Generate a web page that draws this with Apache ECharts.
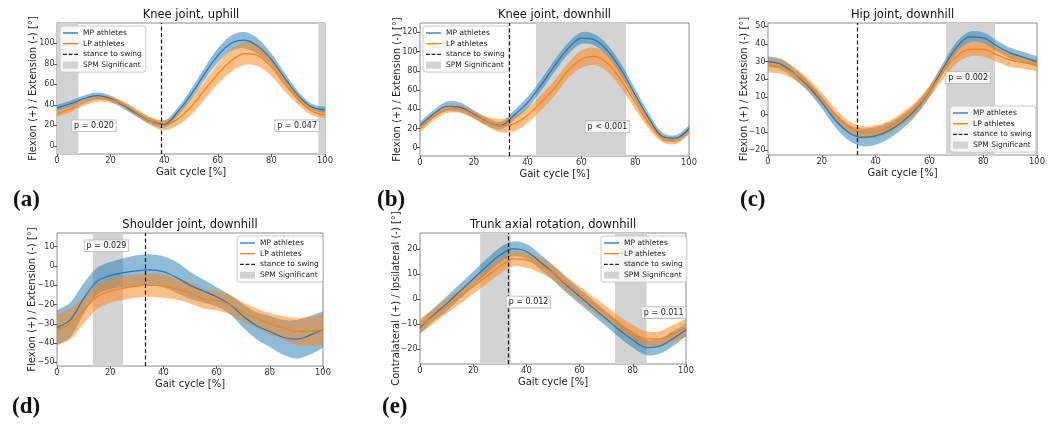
<!DOCTYPE html>
<html><head><meta charset="utf-8">
<script src="https://cdn.jsdelivr.net/npm/echarts@6/dist/echarts.min.js"></script>
<style>html,body{margin:0;padding:0;background:#fff}#c{width:1052px;height:425px}</style>
</head><body><div id="c"></div>
<script>
// ---------- data ----------
const gaitPct = [0,5,10,15,20,25,30,35,40,45,50,55,60,65,70,75,80,85,90,95,100];
const xTicks = [0,20,40,60,80,100];

const kneeUphillMP   = [37,41,46,49,46,39,31,24,21,33,50,70,88,100,103,97,84,66,49,38,35];
const kneeUphillMPsd = [3,3,3,3,3,3,3,3,3.5,4,5,6,7,7.5,8,7.5,6,5,4,3,3];
const kneeUphillLP   = [31,36,42,46,45,40,32,24,20,26,38,54,70,83,90,88,77,60,45,34,30];
const kneeUphillLPsd = [3,3,3,3,3,3,3.5,4,5,6,8,9,10,11,11,10.5,9,7,5,4,3];

const kneeDownMP   = [23,35,43,42,35,27,23,34,47,65,85,103,114,112,100,80,55,31,12,10,20];
const kneeDownMPsd = [4,4,5,5,4,4,4,5,6,6,6,6,6,6,6,6,6,5,4,3,3];
const kneeDownLP   = [20,32,40,40,34,27,23,25,34,47,62,80,92,95,87,69,47,25,10,7,17];
const kneeDownLPsd = [4,4,4,4,4,5,7,8,8,8,8,8,9,9,9,8,7,5,4,3,3];

const hipDownMP   = [30,28.5,23,16,7,-3,-10,-12.8,-12,-9,-4,3,13,26,38,44,43.5,39,35,32.5,30];
const hipDownMPsd = [3,3,3,3,3.5,4,4.5,5,5,4.5,4,3.5,3,3,3,3,3,3,3,3,3];
const hipDownLP   = [28,27,23,17,9,0,-7,-10,-9.5,-7,-2,4,13,24,33,37,37,34,31,29.5,28];
const hipDownLPsd = [4,4,3.5,3.5,3.5,3.5,3.5,3.5,3.5,3.5,3.5,3.5,3.5,4,4,4,4,4,4,3.5,3.5];

const shoulderDownMP   = [-32,-28,-17,-8,-5,-3.5,-2.5,-2,-3,-6,-10,-13,-16,-20,-26,-31,-34,-37,-38,-36,-33];
const shoulderDownMPsd = [9,9,8,7,7,7.5,8,8,8,8,7,6,5,5,6,7,8,9,10,10,9.5];
const shoulderDownLP   = [-33,-30,-23,-16,-13,-11.5,-10.5,-10,-10.5,-12,-14,-17,-18,-20,-24,-27,-30,-32,-34,-34,-33];
const shoulderDownLPsd = [8,8,7,6.5,6,6,6,6,6,5.5,5.5,5,5,5,5,5,5.5,6,7,7.5,8];

const trunkDownMP   = [-11.5,-6.5,-2,3,8,13,17.5,20,19,15,10.5,5.5,1,-3.5,-8,-12.5,-16.5,-19.5,-19,-16,-12.5];
const trunkDownMPsd = [2.5,2.5,3,3,3,3,3,3,3,3,3,3,3,3,3,3,3,3,3,3,2.5];
const trunkDownLP   = [-11,-7,-3,1,5,9,13,16,15.5,13.5,10.5,6,2,-2,-6,-10,-13.5,-16,-16,-14,-11.5];
const trunkDownLPsd = [3,3,3,3,3,3,3,3,3,3,3,3,3,3,3,3,3,3,3,3.5,3.5];

const spmA = [[0,8],[97.5,100]];
const spmB = [[43.1,76.6]];
const spmC = [[66.2,84.4]];
const spmD = [[13.5,24.8]];
const spmE = [[22.6,34.1],[73.3,85.2]];

const stanceA = 39, stanceB = 33.3, stanceC = 33.3, stanceD = 33.2, stanceE = 33.2;

const pTextA = ['p = 0.020','p = 0.047'];
const pTextB = ['p < 0.001'];
const pTextC = ['p = 0.002'];
const pTextD = ['p = 0.029'];
const pTextE = ['p = 0.012','p = 0.011'];

const yTicksA = [0,20,40,60,80,100];
const yTicksB = [0,20,40,60,80,100,120];
const yTicksC = [-20,-10,0,10,20,30,40,50];
const yTicksD = [-50,-40,-30,-20,-10,0,10];
const yTicksE = [-20,-10,0,10,20];

const legendNames = ['MP athletes','LP athletes','stance to swing','SPM Significant'];

// ---------- layout / styles ----------
const FONT = 'DejaVu Sans';
const BLUE = '#1f77b4', ORANGE = '#ff7f0e', GRAY = '#d3d3d3';
const SMOOTH = 0.33;
const ylabFlex = 'Flexion (+) / Extension (-) [°]';

const panels = [
  {tag:'(a)', tagPos:[13,189], title:'Knee joint, uphill', titleY:9, box:[57,23,268,131], yMin:-8, yMax:119.8, yTicks:yTicksA, ylab:ylabFlex, nameGap:19,
   mp:kneeUphillMP, mpSd:kneeUphillMPsd, lp:kneeUphillLP, lpSd:kneeUphillLPsd, spm:spmA, stance:stanceA,
   pText:pTextA, pPos:[[13.8,19.5],[89.6,19.5]], legend:[60,26]},
  {tag:'(b)', tagPos:[377,189], title:'Knee joint, downhill', titleY:9, box:[420,23,269,133], yMin:-8.6, yMax:129.7, yTicks:yTicksB, ylab:ylabFlex, nameGap:18,
   mp:kneeDownMP, mpSd:kneeDownMPsd, lp:kneeDownLP, lpSd:kneeDownLPsd, spm:spmB, stance:stanceB,
   pText:pTextB, pPos:[[69.7,21.9]], legend:[423,26]},
  {tag:'(c)', tagPos:[740,189], title:'Hip joint, downhill', titleY:9, box:[768,23,269,132], yMin:-22.8, yMax:51.9, yTicks:yTicksC, ylab:ylabFlex, nameGap:18.5,
   mp:hipDownMP, mpSd:hipDownMPsd, lp:hipDownLP, lpSd:hipDownLPsd, spm:spmC, stance:stanceC,
   pText:pTextC, pPos:[[74.4,21]], legend:[950,106]},
  {tag:'(d)', tagPos:[12,396], title:'Shoulder joint, downhill', titleY:219, box:[57,233,266,133], yMin:-51.9, yMax:17.1, yTicks:yTicksD, ylab:ylabFlex, nameGap:19.5,
   mp:shoulderDownMP, mpSd:shoulderDownMPsd, lp:shoulderDownLP, lpSd:shoulderDownLPsd, spm:spmD, stance:stanceD,
   pText:pTextD, pPos:[[18.6,10.5]], legend:[237,236]},
  {tag:'(e)', tagPos:[382,396], title:'Trunk axial rotation, downhill', titleY:219, box:[420,233,266,131], yMin:-26.1, yMax:26.4, yTicks:yTicksE, ylab:'Contralateral (+) / Ipsilateral (-) [°]', nameGap:19,
   mp:trunkDownMP, mpSd:trunkDownMPsd, lp:trunkDownLP, lpSd:trunkDownLPsd, spm:spmE, stance:stanceE,
   pText:pTextE, pPos:[[40.8,-1.3],[91.6,-5.5]], legend:[601,236]}
];

const fmt = v => (v < 0 ? '\u2212' + Math.abs(v) : String(v));
const pairs = arr => gaitPct.map((x, k) => [x, arr[k]]);
const lineIcon = 'path://M0,0H150V13H0Z';
const dashIcon = 'path://M0,0H38V13H0ZM56,0H94V13H56ZM112,0H150V13H112Z';

// smooth a pixel polyline the same way a smoothed line series does (bezier control points)
function smoothCurve(pts, sm) {
  const n = pts.length, before = [], after = [];
  for (let i = 0; i < n; i++) {
    const p = pts[i];
    const pr = pts[i - 1] || p, nx = pts[i + 1] || p;
    const vx = nx[0] - pr[0], vy = nx[1] - pr[1];
    const l0 = Math.hypot(p[0] - pr[0], p[1] - pr[1]);
    const l1 = Math.hypot(nx[0] - p[0], nx[1] - p[1]);
    const r = (l0 + l1) ? l1 / (l0 + l1) : 0.5;
    before[i] = [p[0] - vx * sm * (1 - r), p[1] - vy * sm * (1 - r)];
    after[i] = [p[0] + vx * sm * r, p[1] + vy * sm * r];
  }
  const out = [], N = 10;
  for (let i = 0; i < n - 1; i++) {
    const a = pts[i], b = after[i], c = before[i + 1], d = pts[i + 1];
    for (let t = 0; t < N; t++) {
      const u = t / N, m = 1 - u;
      out.push([m*m*m*a[0] + 3*m*m*u*b[0] + 3*m*u*u*c[0] + u*u*u*d[0],
                m*m*m*a[1] + 3*m*m*u*b[1] + 3*m*u*u*c[1] + u*u*u*d[1]]);
    }
  }
  out.push(pts[n - 1]);
  return out;
}

const option = {
  animation: false,
  backgroundColor: '#fff',
  textStyle: {fontFamily: FONT},
  title: [], grid: [], xAxis: [], yAxis: [], legend: [], series: []
};

panels.forEach((p, i) => {
  const [L, T, W, H] = p.box;
  option.grid.push({left: L, top: T, width: W, height: H, show: true, borderColor: '#8a8a8a', borderWidth: 1,
    backgroundColor: 'transparent', containLabel: false, outerBoundsMode: 'none'});
  option.title.push({text: p.title, left: L + W / 2, top: p.titleY, textAlign: 'center', padding: 0,
    textStyle: {fontFamily: FONT, fontSize: 11.5, fontWeight: 'normal', color: '#111'}});
  option.title.push({text: p.tag, left: p.tagPos[0], top: p.tagPos[1], padding: 0,
    textStyle: {fontFamily: 'Liberation Serif', fontSize: 23, fontWeight: 'bold', color: '#111'}});
  option.xAxis.push({gridIndex: i, type: 'value', min: 0, max: 100, interval: 20,
    name: 'Gait cycle [%]', nameLocation: 'middle', nameGap: 13, nameMoveOverlap: false,
    nameTextStyle: {fontFamily: FONT, fontSize: 10, color: '#222'},
    axisLine: {show: false, onZero: false}, splitLine: {show: false},
    axisTick: {show: true, length: 3, lineStyle: {color: '#555'}},
    axisLabel: {fontFamily: FONT, fontSize: 8.3, color: '#333', margin: 3, formatter: fmt, showMinLabel: true, showMaxLabel: true}});
  option.yAxis.push({gridIndex: i, type: 'value', min: p.yMin, max: p.yMax,
    name: p.ylab, nameLocation: 'middle', nameGap: p.nameGap, nameRotate: 90, nameMoveOverlap: false,
    nameTextStyle: {fontFamily: FONT, fontSize: 10, color: '#222'},
    axisLine: {show: false, onZero: false}, splitLine: {show: false},
    axisTick: {show: true, length: 3, lineStyle: {color: '#555'}, customValues: p.yTicks},
    axisLabel: {fontFamily: FONT, fontSize: 8, color: '#333', margin: 2.5, formatter: fmt, customValues: p.yTicks}});
  option.legend.push({orient: 'vertical', left: p.legend[0], top: p.legend[1], selectedMode: false,
    itemWidth: 15, itemHeight: 7, itemGap: 2.7, padding: [3, 4, 3, 3],
    borderColor: '#cccccc', borderWidth: 1, borderRadius: 3, backgroundColor: 'rgba(255,255,255,0.8)',
    textStyle: {fontFamily: FONT, fontSize: 7.5, color: '#222', lineHeight: 8},
    data: [
      {name: legendNames[0], icon: lineIcon, itemStyle: {color: BLUE, borderWidth: 0}},
      {name: legendNames[1], icon: lineIcon, itemStyle: {color: ORANGE, borderWidth: 0}},
      {name: legendNames[2], icon: dashIcon, itemStyle: {color: '#222', borderWidth: 0}},
      {name: legendNames[3], icon: 'rect', itemStyle: {color: GRAY, borderWidth: 0}}
    ]});

  const ax = {xAxisIndex: i, yAxisIndex: i};
  // SPM significant regions
  option.series.push(Object.assign({type: 'line', name: legendNames[3], data: [], z: 1, silent: true,
    markArea: {silent: true, itemStyle: {color: GRAY}, data: p.spm.map(r => [{xAxis: r[0]}, {xAxis: r[1]}])}}, ax));
  // +/- SD bands, drawn through the axes' own scales
  const band = (mean, sd, color, key) => {
    option.series.push(Object.assign({type: 'custom', name: key + ' SD', z: 2, silent: true, clip: true,
      data: [0],
      renderItem: (params, api) => {
        const up = gaitPct.map((x, k) => api.coord([x, mean[k] + sd[k]]));
        const lo = gaitPct.map((x, k) => api.coord([x, mean[k] - sd[k]]));
        const pts = smoothCurve(up, SMOOTH).concat(smoothCurve(lo, SMOOTH).reverse());
        return {type: 'polygon', shape: {points: pts}, style: {fill: color, opacity: 0.5}};
      }}, ax));
  };
  band(p.mp, p.mpSd, BLUE, 'MP');
  band(p.lp, p.lpSd, ORANGE, 'LP');
  option.series.push(Object.assign({type: 'line', name: legendNames[0], data: pairs(p.mp), symbol: 'none', smooth: SMOOTH, z: 3,
    lineStyle: {color: BLUE, width: 1.2}, itemStyle: {color: BLUE}}, ax));
  option.series.push(Object.assign({type: 'line', name: legendNames[1], data: pairs(p.lp), symbol: 'none', smooth: SMOOTH, z: 3,
    lineStyle: {color: ORANGE, width: 1.2}, itemStyle: {color: ORANGE}}, ax));
  // stance to swing
  option.series.push(Object.assign({type: 'line', name: legendNames[2], data: [], z: 4, silent: true,
    lineStyle: {color: '#222', type: 'dashed'},
    markLine: {silent: true, symbol: ['none', 'none'], label: {show: false},
      lineStyle: {color: '#111', width: 1.2, type: [4, 2.5]}, data: [{xAxis: p.stance}]}}, ax));
  // p-value annotations
  option.series.push(Object.assign({type: 'line', name: 'p values', data: [], z: 6, silent: true,
    markPoint: {silent: true, symbol: 'rect', symbolSize: 1, itemStyle: {color: 'rgba(0,0,0,0)'},
      label: {show: true, position: 'inside', formatter: '{b}', fontFamily: FONT, fontSize: 8, color: '#222',
        backgroundColor: 'rgba(255,255,255,0.8)', borderColor: '#bbbbbb', borderWidth: 0.8, padding: [2, 2, 1, 2]},
      data: p.pText.map((t, k) => ({name: t, coord: p.pPos[k]}))}}, ax));
});

const chart = echarts.init(document.getElementById('c'), null, {renderer: 'canvas'});
chart.setOption(option);
</script></body></html>
